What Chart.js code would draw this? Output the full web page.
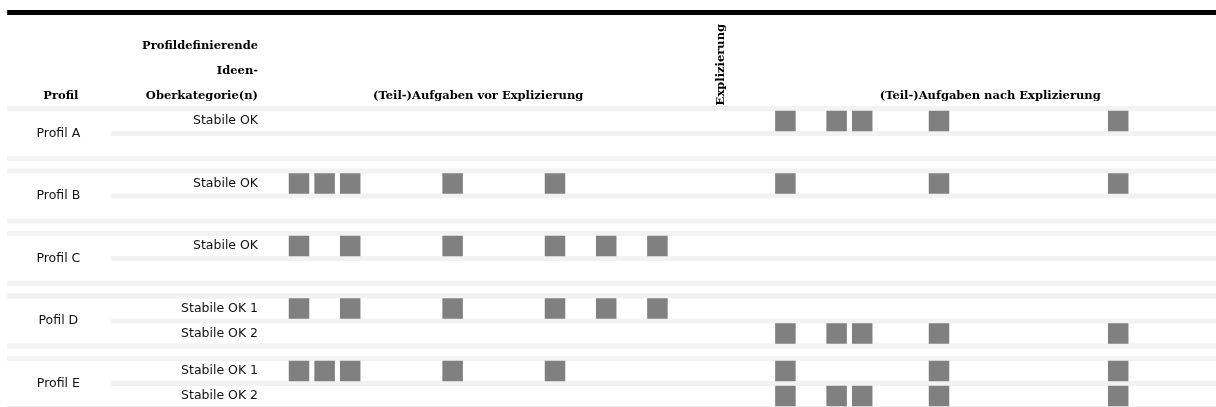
<!DOCTYPE html>
<html lang="de">
<head>
<meta charset="utf-8">
<title>Profile und Ideen-Oberkategorien</title>
<script src="https://cdn.jsdelivr.net/npm/chart.js@4.4.1/dist/chart.umd.min.js"></script>
<style>
  html, body { margin: 0; padding: 0; background: #fff; }
  canvas { display: block; }
</style>
</head>
<body>
<canvas id="profil-chart" width="1216" height="407"></canvas>
<script>
// Profile und ihre Oberkategorien
const profile = ['Profil A', 'Profil B', 'Profil C', 'Pofil D', 'Profil E'];
const oberkategorien = [
    ['Stabile OK'],
    ['Stabile OK'],
    ['Stabile OK'],
    ['Stabile OK 1', 'Stabile OK 2'],
    ['Stabile OK 1', 'Stabile OK 2']
];

// Nummer der (Teil-)Aufgabe (1..15) vor der Explizierung, je Oberkategorie
const aufgabenVor = [
    [[]],
    [[1, 2, 3, 7, 11]],
    [[1, 3, 7, 11, 13, 15]],
    [[1, 3, 7, 11, 13, 15], []],
    [[1, 2, 3, 7, 11], []]
];
// Nummer der (Teil-)Aufgabe (1..17) nach der Explizierung, je Oberkategorie
const aufgabenNach = [
    [[1, 3, 4, 7, 14]],
    [[1, 7, 14]],
    [[]],
    [[], [1, 3, 4, 7, 14]],
    [[1, 7, 14], [1, 3, 4, 7, 14]]
];
const anzahlVor = 15;
const anzahlNach = 17;

// Spaltenköpfe
const kopfProfil = 'Profil';
const kopfOberkategorie = ['Profildefinierende', 'Ideen-', 'Oberkategorie(n)'];
const kopfVor = '(Teil-)Aufgaben vor Explizierung';
const kopfExplizierung = 'Explizierung';
const kopfNach = '(Teil-)Aufgaben nach Explizierung';

// Raster: Spalte x, Zeile y (5 Einheiten je Profil, 2 je Oberkategorie)
const versatzNach = anzahlVor + 4;          // erste Spalte nach der Explizierung
const spalteExplizierung = anzahlVor + 1.5;
const zeile = (p, s) => 5 * p + 2 * s;

const punkte = [];
profile.forEach((name, p) => {
    oberkategorien[p].forEach((ok, s) => {
        (aufgabenVor[p][s] || []).forEach(k => punkte.push({ x: k - 1, y: zeile(p, s) }));
        (aufgabenNach[p][s] || []).forEach(k => punkte.push({ x: versatzNach + k - 1, y: zeile(p, s) }));
    });
});

const SERIF = "bold 11.5px 'DejaVu Serif', serif";
const SANS = "12.5px 'DejaVu Sans', sans-serif";

// Linien und Beschriftungen der Tabelle
const tabellePlugin = {
    id: 'tabelle',
    beforeDatasetsDraw(chart) {
        const { ctx, chartArea, scales: { x, y } } = chart;
        const band = (r, von, farbe, dicke) => {
            const y0 = y.getPixelForValue(r - dicke / 2);
            const y1 = y.getPixelForValue(r + dicke / 2);
            const x0 = x.getPixelForValue(von);
            ctx.fillStyle = farbe;
            ctx.fillRect(x0, Math.min(y0, y1), chartArea.right - x0, Math.abs(y1 - y0));
        };
        ctx.save();
        band(-8.68, -11.4, '#000000', 0.4);
        profile.forEach((name, p) => {
            band(zeile(p, 0) - 1, -11.4, '#f2f2f2', 0.4);
            band(zeile(p, 0) + 1, -7.34, '#f2f2f2', 0.4);
            band(zeile(p, 1) + 1, -11.4, '#f2f2f2', 0.4);
        });
        ctx.restore();
    },
    afterDatasetsDraw(chart) {
        const { ctx, scales: { x, y } } = chart;
        const text = (t, cx, cy, align, font) => {
            ctx.font = font;
            ctx.textAlign = align;
            ctx.fillText(t, x.getPixelForValue(cx), y.getPixelForValue(cy));
        };
        ctx.save();
        ctx.fillStyle = '#000';
        ctx.textBaseline = 'middle';

        // Kopfzeile
        text(kopfProfil, -9.3, -2, 'center', SERIF);
        kopfOberkategorie.forEach((t, i) => text(t, -1.6, -6 + 2 * i, 'right', SERIF));
        text(kopfVor, (anzahlVor - 1) / 2, -2, 'center', SERIF);
        text(kopfNach, versatzNach + (anzahlNach - 1) / 2, -2, 'center', SERIF);

        ctx.save();
        ctx.translate(x.getPixelForValue(spalteExplizierung), y.getPixelForValue(-1.25));
        ctx.rotate(-Math.PI / 2);
        ctx.font = SERIF;
        ctx.textAlign = 'left';
        ctx.fillText(kopfExplizierung, 0, 0);
        ctx.restore();

        // Profile und Oberkategorien
        ctx.fillStyle = '#111';
        profile.forEach((name, p) => {
            text(name, -9.4, zeile(p, 0) + 1, 'center', SANS);
            oberkategorien[p].forEach((ok, s) => text(ok, -1.6, zeile(p, s), 'right', SANS));
        });
        ctx.restore();
    }
};

new Chart(document.getElementById('profil-chart'), {
    type: 'scatter',
    data: {
        datasets: [{
            label: 'Auftreten',
            data: punkte,
            backgroundColor: '#808080',
            borderWidth: 0,
            pointStyle: 'rect',
            pointRadius: 14.5,
            pointHoverRadius: 14.5,
            clip: false
        }]
    },
    options: {
        responsive: false,
        animation: false,
        events: [],
        layout: { autoPadding: false, padding: 0 },
        plugins: {
            legend: { display: false },
            tooltip: { enabled: false }
        },
        scales: {
            x: { type: 'linear', display: false, min: -11.68, max: 35.82 },
            y: { type: 'linear', display: false, reverse: true, min: -9.68, max: 22.88 }
        }
    },
    plugins: [tabellePlugin]
});
</script>
</body>
</html>
